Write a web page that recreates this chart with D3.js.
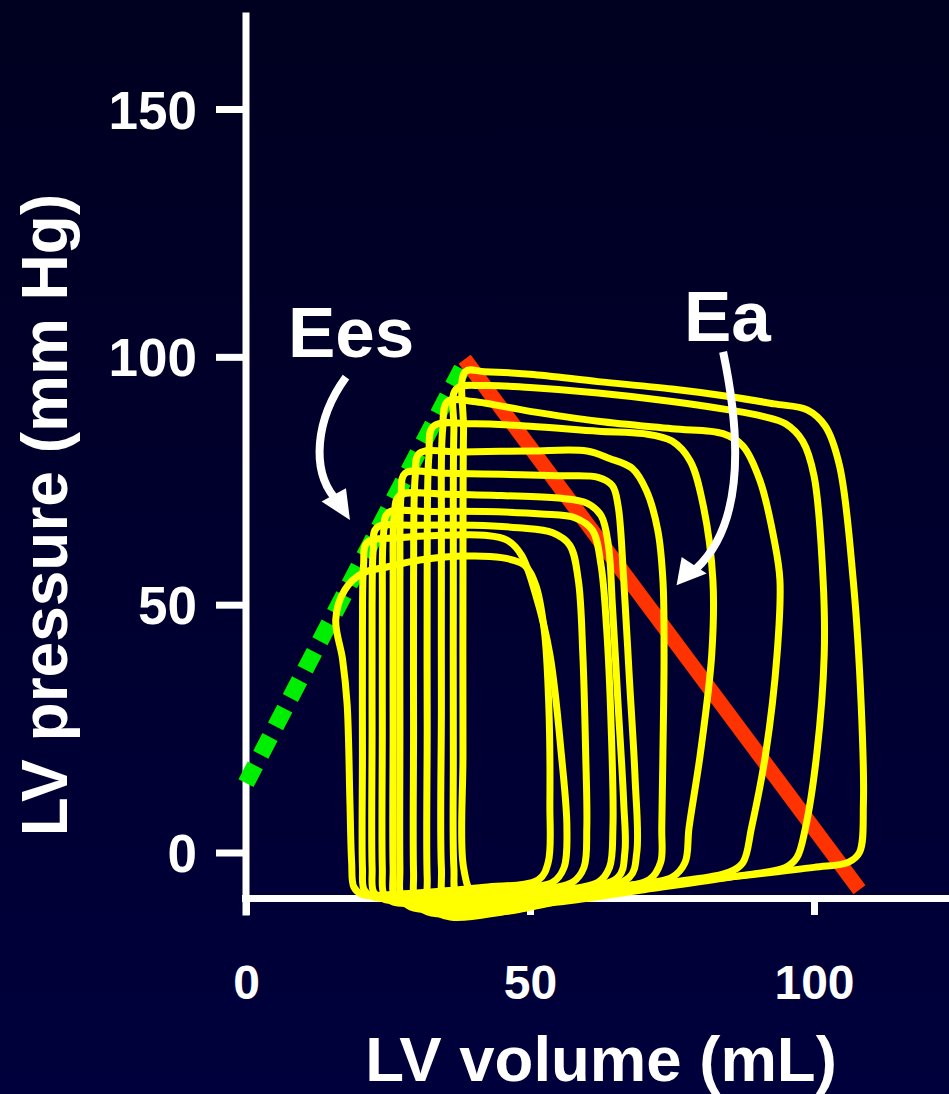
<!DOCTYPE html>
<html>
<head>
<meta charset="utf-8">
<script src="https://cdn.jsdelivr.net/npm/d3@7"></script>
<style>
  html, body { margin: 0; padding: 0; background: #00002a; }
  svg { display: block; }
</style>
</head>
<body>
<svg id="chart" width="949" height="1094"></svg>
<script>
// Axis ticks
const volumeTicks = [0, 50, 100];
const pressureTicks = [0, 50, 100, 150];

// End-systolic elastance (Ees) and arterial elastance (Ea) lines, [volume, pressure]
const eesLine = [[0, 14], [38, 97.6]];
const eaLine = [[38.5, 99.5], [108, -7.5]];

// Pressure-volume loops during preload reduction, largest to smallest ([mL, mmHg])
const loop1 = [[38.6,97],[42,97],[50,96.5],[62,95],[75,93.5],[85,92],[93,90.5],[98.8,89.3],[102,86],[104.5,78],[106.9,55],[108.3,30],[108.7,10],[108,0],[106,-2],[100,-3],[85,-5],[73,-6.5],[55,-9],[45,-10],[40,-8.5],[38.3,-3],[38.2,20],[38.2,55],[38.3,85]];
const loop2 = [[37,93.5],[42,94.2],[50,93.8],[62,92.7],[75,91],[85,89.3],[91,88],[95,86.5],[98,83],[100,76],[101.6,55],[101.8,40],[100.5,20],[98.5,5],[97,-1],[95,-3],[85,-5],[70,-7.5],[55,-10],[42,-11],[37.2,-9],[36.6,-3],[36.5,20],[36.5,55],[36.6,85]];
const loop3 = [[35.5,91],[40,91],[50,89],[62,87],[75,85.5],[84,84.5],[87.5,82],[90.5,75],[93,63],[94,55],[93.5,40],[91.5,20],[89,5],[87.5,-2],[85,-4],[75,-6],[62,-8],[50,-11],[40,-12],[35,-10],[34.4,-3],[34.4,30],[34.4,65],[34.6,85]];
const loop4 = [[33,86],[40,86.5],[50,86],[62,85],[70,84.5],[75,83],[78.2,79],[80.5,70],[82.2,55],[82,40],[80,20],[78,5],[77.3,-2],[75,-5],[65,-7],[55,-9.5],[45,-12],[36,-13],[32.3,-11],[31.9,-5],[31.9,25],[31.9,60],[32.2,80]];
const loop5 = [[30.5,80.5],[38,80.8],[50,81],[60,81],[64,79.5],[68,77.5],[70.5,73],[72.5,65],[73.4,55],[73.6,40],[73.4,20],[73.2,5],[73,-2],[71,-5.5],[60,-8],[48,-11.5],[38,-12.5],[32,-12],[29.8,-10],[29.5,-4],[29.5,25],[29.5,55],[29.8,76]];
const loop6 = [[28,76.5],[35,76.5],[45,76.3],[55,76],[62,75.7],[64.5,74],[65.5,70],[66.5,55],[67.5,35],[68.5,15],[68.8,0],[67.5,-5],[58,-8],[45,-10.5],[35,-11.5],[29,-11],[27.3,-9],[27.1,-3],[27.1,25],[27.1,55],[27.3,72]];
const loop7 = [[27,72],[35,72.3],[45,72],[55,71.5],[60,70.5],[62.5,68],[63.8,62],[64.5,50],[65.5,30],[66.5,10],[66.7,0],[65.5,-5],[55,-8],[45,-10],[35,-10.5],[28.5,-10.5],[26.2,-9],[25.9,-3],[25.9,25],[25.9,55],[26.1,68]];
const loop8 = [[25,68.5],[32,68.8],[42,68.8],[52,68.3],[58,67.5],[61,65],[62.5,58],[63.5,45],[64.3,25],[64.6,5],[64,-3],[62,-6],[52,-8],[42,-9.5],[32,-10],[26,-10],[24.3,-8.5],[24,-3],[24,25],[24,50],[24.2,64]];
const loop9 = [[23,65.5],[30,66],[40,66],[48,65.5],[54,64.5],[57,62],[58.5,55],[59.3,40],[59.8,20],[60,5],[59.5,-3],[57.5,-6],[48,-8],[38,-9],[30,-9.5],[24.5,-9.5],[22.5,-8],[22.2,-3],[22.2,25],[22.2,50],[22.4,61]];
const loop10 = [[21.3,62.5],[27,63.5],[35,64],[42,64],[46,63],[48.5,60],[51,52],[53.5,40],[55.5,20],[56.5,5],[56,-3],[54,-6],[45,-7.5],[35,-8.5],[27,-9],[22.5,-9],[20.8,-7.5],[20.5,-3],[20.5,20],[20.5,45],[20.7,58]];
const loop11 = [[20.6,56.4],[24.8,57.6],[30.6,59],[38,59.8],[45,59.5],[49,58],[51,54],[52.5,45],[53.3,30],[53.5,10],[53.2,-2],[51.5,-5.5],[42,-7],[32,-8],[25,-8.5],[20.5,-8.5],[19,-7],[18.6,-2],[18.3,10],[17.8,30],[17,39],[15.8,47],[17.4,53]];
const loops = [loop1, loop2, loop3, loop4, loop5, loop6, loop7, loop8, loop9, loop10, loop11];

// Curved annotation arrows, control points in [mL, mmHg]
const eesArrow = { shaft: [[17.6,95.9],[12.1,87.3],[11.6,77.2],[15.5,71.7]], head: [[13.3,70.8],[17.6,73.5],[18.3,67.1]] };
const eaArrow = { shaft: [[84,101],[87,84.7],[88,66.5],[79.2,57.2]], head: [[76.7,59.6],[81.1,56.3],[75.8,53.9]] };

const svg = d3.select("#chart");
const W = 949, H = 1094;

// Background
const defs = svg.append("defs");
const grad = defs.append("linearGradient").attr("id", "bg").attr("x1", 0).attr("y1", 0).attr("x2", 0).attr("y2", 1);
grad.append("stop").attr("offset", "0%").attr("stop-color", "#000020");
grad.append("stop").attr("offset", "100%").attr("stop-color", "#00003c");
svg.append("rect").attr("width", W).attr("height", H).attr("fill", "url(#bg)");

// Scales
const x = d3.scaleLinear().domain([0, 100]).range([246, 814]);
const y = d3.scaleLinear().domain([0, 150]).range([852.5, 109]);

const font = "'Liberation Sans', Arial, Helvetica, sans-serif";

// Axes (axis lines run past the data range)
const xAxisScale = x.copy().domain([x.invert(241.5), x.invert(949)]).range([241.5, 949]);
const yAxisScale = y.copy().domain([y.invert(915), y.invert(12)]).range([915, 12]);

const gx = svg.append("g").attr("transform", `translate(0,${898})`)
  .call(d3.axisBottom(xAxisScale).tickValues(volumeTicks).tickSize(17).tickSizeOuter(0).tickPadding(50).tickFormat(d3.format("d")));
const gy = svg.append("g").attr("transform", `translate(${245.5},0)`)
  .call(d3.axisLeft(yAxisScale).tickValues(pressureTicks).tickSize(29.5).tickSizeOuter(0).tickPadding(19).tickFormat(d3.format("d")));

[gx, gy].forEach(g => {
  g.select(".domain").attr("stroke", "#ffffff").attr("stroke-width", 7);
  g.selectAll(".tick line").attr("stroke", "#ffffff").attr("stroke-width", 7);
  g.selectAll(".tick text").attr("fill", "#ffffff").attr("font-family", font).attr("font-weight", "bold");
});
gx.selectAll(".tick text").attr("font-size", 48);
gy.selectAll(".tick text").attr("font-size", 53).attr("dy", "0.36em");

// Axis titles
svg.append("text").attr("x", 601).attr("y", 1081).attr("text-anchor", "middle")
  .attr("fill", "#fff").attr("font-family", font).attr("font-weight", "bold").attr("font-size", 63.5)
  .text("LV volume (mL)");
svg.append("text").attr("transform", "translate(67,515) rotate(-90)").attr("text-anchor", "middle")
  .attr("fill", "#fff").attr("font-family", font).attr("font-weight", "bold").attr("font-size", 64)
  .text("LV pressure (mm Hg)");

const line = d3.line().x(d => x(d[0])).y(d => y(d[1]));

// Ees (dotted green)
svg.append("path").attr("d", line(eesLine)).attr("fill", "none")
  .attr("stroke", "#00ee00").attr("stroke-width", 17).attr("stroke-dasharray", "20 12");

// Ea (red-orange)
svg.append("path").attr("d", line(eaLine)).attr("fill", "none")
  .attr("stroke", "#ff3300").attr("stroke-width", 15);

// PV loops
const loopLine = d3.line().x(d => x(d[0])).y(d => y(d[1])).curve(d3.curveCatmullRomClosed.alpha(0.5));
svg.append("g").selectAll("path").data(loops).join("path")
  .attr("d", loopLine).attr("fill", "none").attr("stroke", "#ffff00")
  .attr("stroke-width", 7).attr("stroke-linejoin", "round");

// Annotation arrows
function drawArrow(a) {
  const s = a.shaft.map(p => [x(p[0]), y(p[1])]);
  const path = d3.path();
  path.moveTo(s[0][0], s[0][1]);
  path.bezierCurveTo(s[1][0], s[1][1], s[2][0], s[2][1], s[3][0], s[3][1]);
  svg.append("path").attr("d", path.toString()).attr("fill", "none")
    .attr("stroke", "#fff").attr("stroke-width", 8);
  svg.append("path").attr("d", line(a.head) + "Z").attr("fill", "#fff");
}
drawArrow(eesArrow);
drawArrow(eaArrow);

// Labels
svg.append("text").attr("x", 288).attr("y", 357).attr("fill", "#fff").attr("font-family", font)
  .attr("font-weight", "bold").attr("font-size", 71).text("Ees");
svg.append("text").attr("x", 684).attr("y", 341).attr("fill", "#fff").attr("font-family", font)
  .attr("font-weight", "bold").attr("font-size", 71).text("Ea");
</script>
</body>
</html>
